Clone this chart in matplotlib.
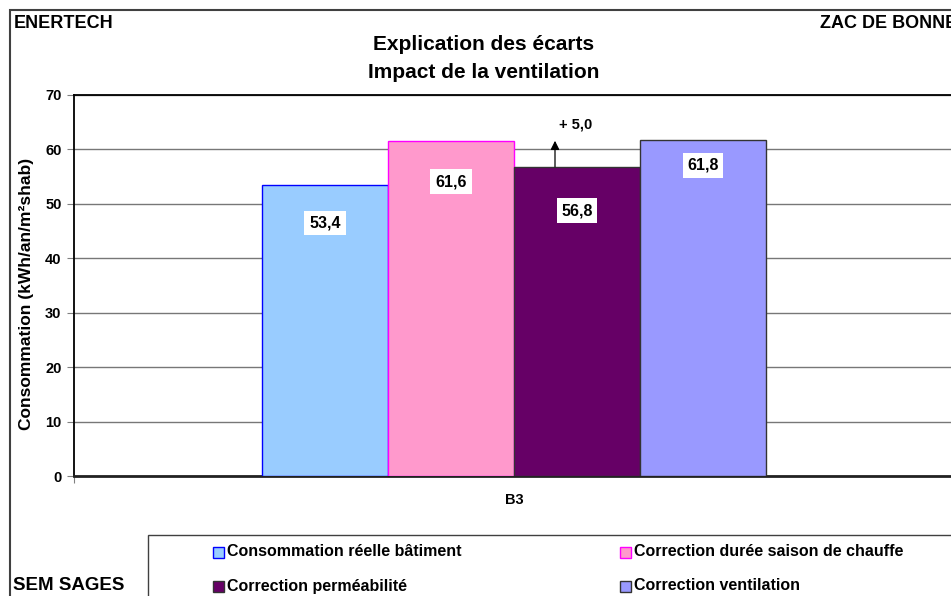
import matplotlib
matplotlib.use("Agg")
import matplotlib.pyplot as plt
from matplotlib.patches import Rectangle

plt.rcParams['font.family'] = ['Liberation Sans', 'DejaVu Sans']

category = ["B3"]
series_names = ["Consommation réelle bâtiment", "Correction durée saison de chauffe",
                "Correction perméabilité", "Correction ventilation"]
values = [53.4, 61.6, 56.8, 61.8]
value_labels = ["53,4", "61,6", "56,8", "61,8"]
delta_label = "+ 5,0"
yticks = [0, 10, 20, 30, 40, 50, 60, 70]

face_colors = ["#99CCFF", "#FF99CC", "#660066", "#9999FF"]
edge_colors = ["#0000FF", "#FF00FF", "#333333", "#333333"]
label_offsets_pt = [-27, -29.5, -31.5, -18.5]

W, H = 951, 596
fig = plt.figure(figsize=(W / 100, H / 100), dpi=100)

# Outer chart frame
fig.patches.append(Rectangle((10 / W, -0.1), 1.2, (H - 10) / H + 0.1,
                             transform=fig.transFigure, fill=False,
                             edgecolor="#404040", linewidth=1.5))

ax = fig.add_axes([74 / W, 1 - 476 / H, 880 / W, (476 - 95) / H])
ax.set_xlim(-0.5, 0.5)
ax.set_ylim(0, 70)
bw = 126 / 880
offsets = [-1.5 * bw, -0.5 * bw, 0.5 * bw, 1.5 * bw]

for i in range(4):
    ax.bar(offsets[i], values[i], width=bw, color=face_colors[i],
           edgecolor=edge_colors[i], linewidth=1.0, zorder=3,
           label=series_names[i])
    ax.annotate(value_labels[i], (offsets[i], values[i]),
                xytext=(0, label_offsets_pt[i]), textcoords="offset points",
                ha="center", va="center", fontsize=11.5, fontweight="bold",
                bbox=dict(boxstyle="square,pad=0.3", fc="white", ec="none"),
                zorder=5)

# arrow showing the ventilation impact
ax.annotate("", xy=(offsets[2] - 0.025, values[3] + 0.3),
            xytext=(offsets[2] - 0.025, values[2] - 0.5),
            arrowprops=dict(arrowstyle="-|>", color="black", lw=0.9,
                            mutation_scale=13), zorder=6)
ax.text(offsets[2] - 0.002, values[3] + 2.8, delta_label, ha="center",
        va="center", fontsize=10.5, fontweight="bold", zorder=6)

ax.set_yticks(yticks)
ax.set_yticklabels([str(t) for t in yticks], fontsize=10.5, fontweight="bold")
ax.yaxis.grid(True, color="#777777", linewidth=1.0, zorder=0)
ax.set_axisbelow(True)
ax.tick_params(axis="y", length=5, width=0.8, color="#808080", pad=4)
ax.set_xticks([-0.5])
ax.set_xticklabels([""])
ax.tick_params(axis="x", length=5, width=0.8, color="#808080")
ax.text(0, -4.5, category[0], ha="center", va="center", fontsize=10.5,
        fontweight="bold")
ax.spines["right"].set_visible(False)
ax.spines["left"].set_linewidth(1.3)
ax.spines["top"].set_linewidth(1.3)
ax.spines["bottom"].set_linewidth(2.0)
ax.spines["bottom"].set_color("#222222")

fig.text(27 / W, 1 - 294 / H, "Consommation (kWh/an/m²shab)", fontsize=12.5,
         fontweight="bold", rotation=90, ha="center", va="center")

fig.text(14 / W, 1 - 23 / H, "ENERTECH", fontsize=13, fontweight="bold",
         ha="left", va="center")
fig.text(820 / W, 1 - 23 / H, "ZAC DE BONNE", fontsize=13, fontweight="bold",
         ha="left", va="center")
fig.text(484 / W, 1 - 45 / H, "Explication des écarts", fontsize=15,
         fontweight="bold", ha="center", va="center")
fig.text(484 / W, 1 - 72 / H, "Impact de la ventilation", fontsize=15,
         fontweight="bold", ha="center", va="center")
fig.text(13 / W, 1 - 586 / H, "SEM SAGES", fontsize=13.5, fontweight="bold",
         ha="left", va="center")

# legend box
fig.patches.append(Rectangle((148 / W, -0.1), 1.0, (596 - 535) / H + 0.1,
                             transform=fig.transFigure, fill=False,
                             edgecolor="#404040", linewidth=1.0))
leg_pos = [(213, 552), (620, 552), (213, 586), (620, 586)]
for i, (px, py) in enumerate(leg_pos):
    fig.patches.append(Rectangle((px / W, 1 - (py + 5.5) / H), 11 / W, 11 / H,
                                 transform=fig.transFigure,
                                 facecolor=face_colors[i],
                                 edgecolor=edge_colors[i], linewidth=1.0))
    fig.text((px + 14) / W, 1 - py / H, series_names[i], fontsize=11.5,
             fontweight="bold", ha="left", va="center")

fig.savefig("out.png", dpi=100)
